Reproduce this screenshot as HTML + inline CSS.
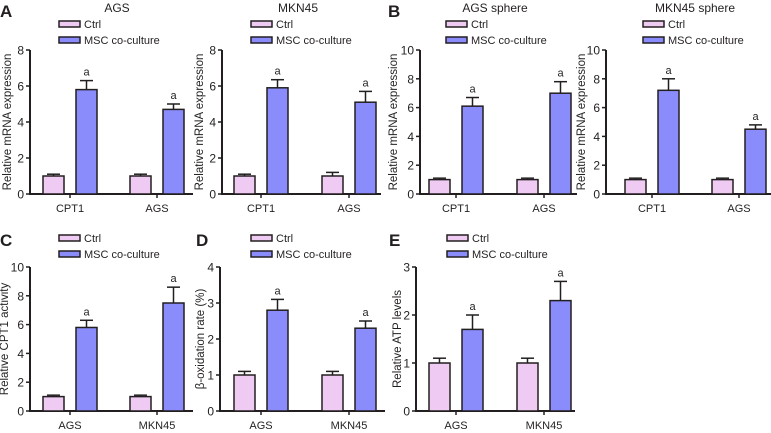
<!DOCTYPE html>
<html><head><meta charset="utf-8">
<style>
html,body{margin:0;padding:0;background:#fff;}
svg{display:block;font-family:"Liberation Sans",sans-serif;}
</style></head>
<body>
<svg id="fig" width="771" height="433" viewBox="0 0 771 433" xmlns="http://www.w3.org/2000/svg"></svg>
<script>
// ---- data ----
const categoriesA = ["CPT1","AGS"];
const categoriesC = ["AGS","MKN45"];
const ctrlA = [1.0,1.0], ctrlAErr=[0.1,0.1], mscA=[5.8,4.7], mscAErr=[0.5,0.3];
const ctrlM = [1.0,1.0], ctrlMErr=[0.1,0.2], mscM=[5.9,5.1], mscMErr=[0.45,0.6];
const ctrlBA = [1.0,1.0], ctrlBAErr=[0.1,0.1], mscBA=[6.1,7.0], mscBAErr=[0.6,0.8];
const ctrlBM = [1.0,1.0], ctrlBMErr=[0.1,0.1], mscBM=[7.2,4.5], mscBMErr=[0.8,0.3];
const ctrlC = [1.0,1.0], ctrlCErr=[0.1,0.1], mscC=[5.8,7.5], mscCErr=[0.5,1.1];
const ctrlD = [1.0,1.0], ctrlDErr=[0.1,0.1], mscD=[2.8,2.3], mscDErr=[0.3,0.2];
const ctrlE = [1.0,1.0], ctrlEErr=[0.1,0.1], mscE=[1.7,2.3], mscEErr=[0.3,0.4];
const ticks8 = [0,2,4,6,8], ticks10=[0,2,4,6,8,10], ticks4=[0,1,2,3,4], ticks3=[0,1,2,3];
const legendLabels = ["Ctrl","MSC co-culture"];

const NS="http://www.w3.org/2000/svg";
const svg=document.getElementById('fig');
function mk(tag,attrs,parent,text){const e=document.createElementNS(NS,tag);for(const k in attrs)e.setAttribute(k,attrs[k]);if(text!==undefined)e.textContent=text;(parent||svg).appendChild(e);return e;}

const CTRL="#efcbf4", MSC="#8a8cfb", INK="#231f20";

function panel(p){
  const g=mk('g',{},svg);
  
  
  const y=v=>p.y0-(v/p.max)*(p.y0-p.y1);
  if(p.title){const t=mk('text',{x:p.titleX,y:12,'font-size':12,'text-anchor':'middle',fill:INK},g,p.title);
    }
  if(p.letter){const t=mk('text',{x:p.letterX,y:p.letterY,'font-size':17,'font-weight':'bold',fill:INK},g,p.letter);
    }
  [CTRL,MSC].forEach((c,i)=>{
    const ly=p.legY+i*16;
    const r=mk('rect',{x:p.legX,y:ly-3,width:21,height:6,fill:c,stroke:INK,'stroke-width':1.5},g);
    
    const t=mk('text',{x:p.legX+25,y:ly+4,'font-size':11,fill:INK},g,legendLabels[i]);
    
  });
  const ya=mk('line',{x1:p.ax,y1:p.y1,x2:p.ax,y2:p.y0+1,stroke:INK,'stroke-width':2},g);
  
  const xa=mk('line',{x1:p.ax-1,y1:p.y0,x2:p.axEnd,y2:p.y0,stroke:INK,'stroke-width':2},g);
  
  p.ticks.forEach(v=>{
    mk('line',{x1:p.ax-4,y1:y(v),x2:p.ax,y2:y(v),stroke:INK,'stroke-width':1.5},g);
    const t=mk('text',{x:p.ax-6,y:y(v)+4.5,'font-size':12,'text-anchor':'end',fill:INK},g,String(v));
    
  });
  const yt=mk('text',{x:0,y:0,'font-size':11.5,'text-anchor':'middle',fill:INK,transform:`translate(${p.ytX},${(p.y0+p.y1)/2}) rotate(-90)`},g,p.ytitle);
  
  p.cats.forEach((cat,i)=>{
    const gx=p.gx[i];
    const c0=gx-27, c1=gx+6;
    [[c0,p.ctrl[i],p.ctrlErr[i],CTRL,'bar-ctrl'],[c1,p.msc[i],p.mscErr[i],MSC,'bar-msc']].forEach(([bx,v,e,col,nm],j)=>{
      const barTop=y(v), etop=y(v+e);
      const el=mk('line',{x1:bx+10.5,y1:barTop,x2:bx+10.5,y2:etop,stroke:INK,'stroke-width':1.5},g);
      
      mk('line',{x1:bx+4,y1:etop,x2:bx+17,y2:etop,stroke:INK,'stroke-width':1.5},g);
      const r=mk('rect',{x:bx,y:barTop,width:21,height:p.y0-barTop,fill:col,stroke:INK,'stroke-width':1.5},g);
      
      if(j===1){const a=mk('text',{x:bx+10.5,y:etop-5,'font-size':11,'text-anchor':'middle',fill:INK},g,'a');
        }
    });
    mk('line',{x1:gx,y1:p.y0,x2:gx,y2:p.y0+4,stroke:INK,'stroke-width':1.5},g);
    const t=mk('text',{x:gx,y:p.y0+18,'font-size':11,'text-anchor':'middle',fill:INK},g,cat);
    
  });
}
const topRange=[50,194], botRange=[267,411];
panel({name:'panel-a-ags',title:'AGS',titleX:117,letter:'A',letterX:0,letterY:17,legX:59,legY:24,ax:30,axEnd:193,y1:topRange[0],y0:topRange[1],max:8,ticks:ticks8,ytX:11,ytitle:'Relative mRNA expression',cats:categoriesA,gx:[70,157],ctrl:ctrlA,ctrlErr:ctrlAErr,msc:mscA,mscErr:mscAErr});
panel({name:'panel-a-mkn45',title:'MKN45',titleX:298,legX:251,legY:24,ax:222,axEnd:381,y1:topRange[0],y0:topRange[1],max:8,ticks:ticks8,ytX:203,ytitle:'Relative mRNA expression',cats:categoriesA,gx:[261,349],ctrl:ctrlM,ctrlErr:ctrlMErr,msc:mscM,mscErr:mscMErr});
panel({name:'panel-b-ags-sphere',title:'AGS sphere',titleX:495,letter:'B',letterX:388,letterY:17,legX:446,legY:24,ax:420,axEnd:577,y1:topRange[0],y0:topRange[1],max:10,ticks:ticks10,ytX:397,ytitle:'Relative mRNA expression',cats:categoriesA,gx:[456,544],ctrl:ctrlBA,ctrlErr:ctrlBAErr,msc:mscBA,mscErr:mscBAErr});
panel({name:'panel-b-mkn45-sphere',title:'MKN45 sphere',titleX:695,legX:643,legY:24,ax:606,axEnd:771,y1:topRange[0],y0:topRange[1],max:10,ticks:ticks10,ytX:585,ytitle:'Relative mRNA expression',cats:categoriesA,gx:[652,739],ctrl:ctrlBM,ctrlErr:ctrlBMErr,msc:mscBM,mscErr:mscBMErr});
panel({name:'panel-c',letter:'C',letterX:0,letterY:246,legX:59,legY:238,ax:30,axEnd:193,y1:botRange[0],y0:botRange[1],max:10,ticks:ticks10,ytX:8,ytitle:'Relative CPT1 activity',cats:categoriesC,gx:[70,157],ctrl:ctrlC,ctrlErr:ctrlCErr,msc:mscC,mscErr:mscCErr});
panel({name:'panel-d',letter:'D',letterX:196,letterY:246,legX:251,legY:238,ax:220,axEnd:385,y1:botRange[0],y0:botRange[1],max:4,ticks:ticks4,ytX:204,ytitle:'β-oxidation rate (%)',cats:categoriesC,gx:[261,349],ctrl:ctrlD,ctrlErr:ctrlDErr,msc:mscD,mscErr:mscDErr});
panel({name:'panel-e',letter:'E',letterX:389,letterY:246,legX:447,legY:238,ax:416,axEnd:575,y1:botRange[0],y0:botRange[1],max:3,ticks:ticks3,ytX:401,ytitle:'Relative ATP levels',cats:categoriesC,gx:[456,544],ctrl:ctrlE,ctrlErr:ctrlEErr,msc:mscE,mscErr:mscEErr});
</script>
</body></html>
